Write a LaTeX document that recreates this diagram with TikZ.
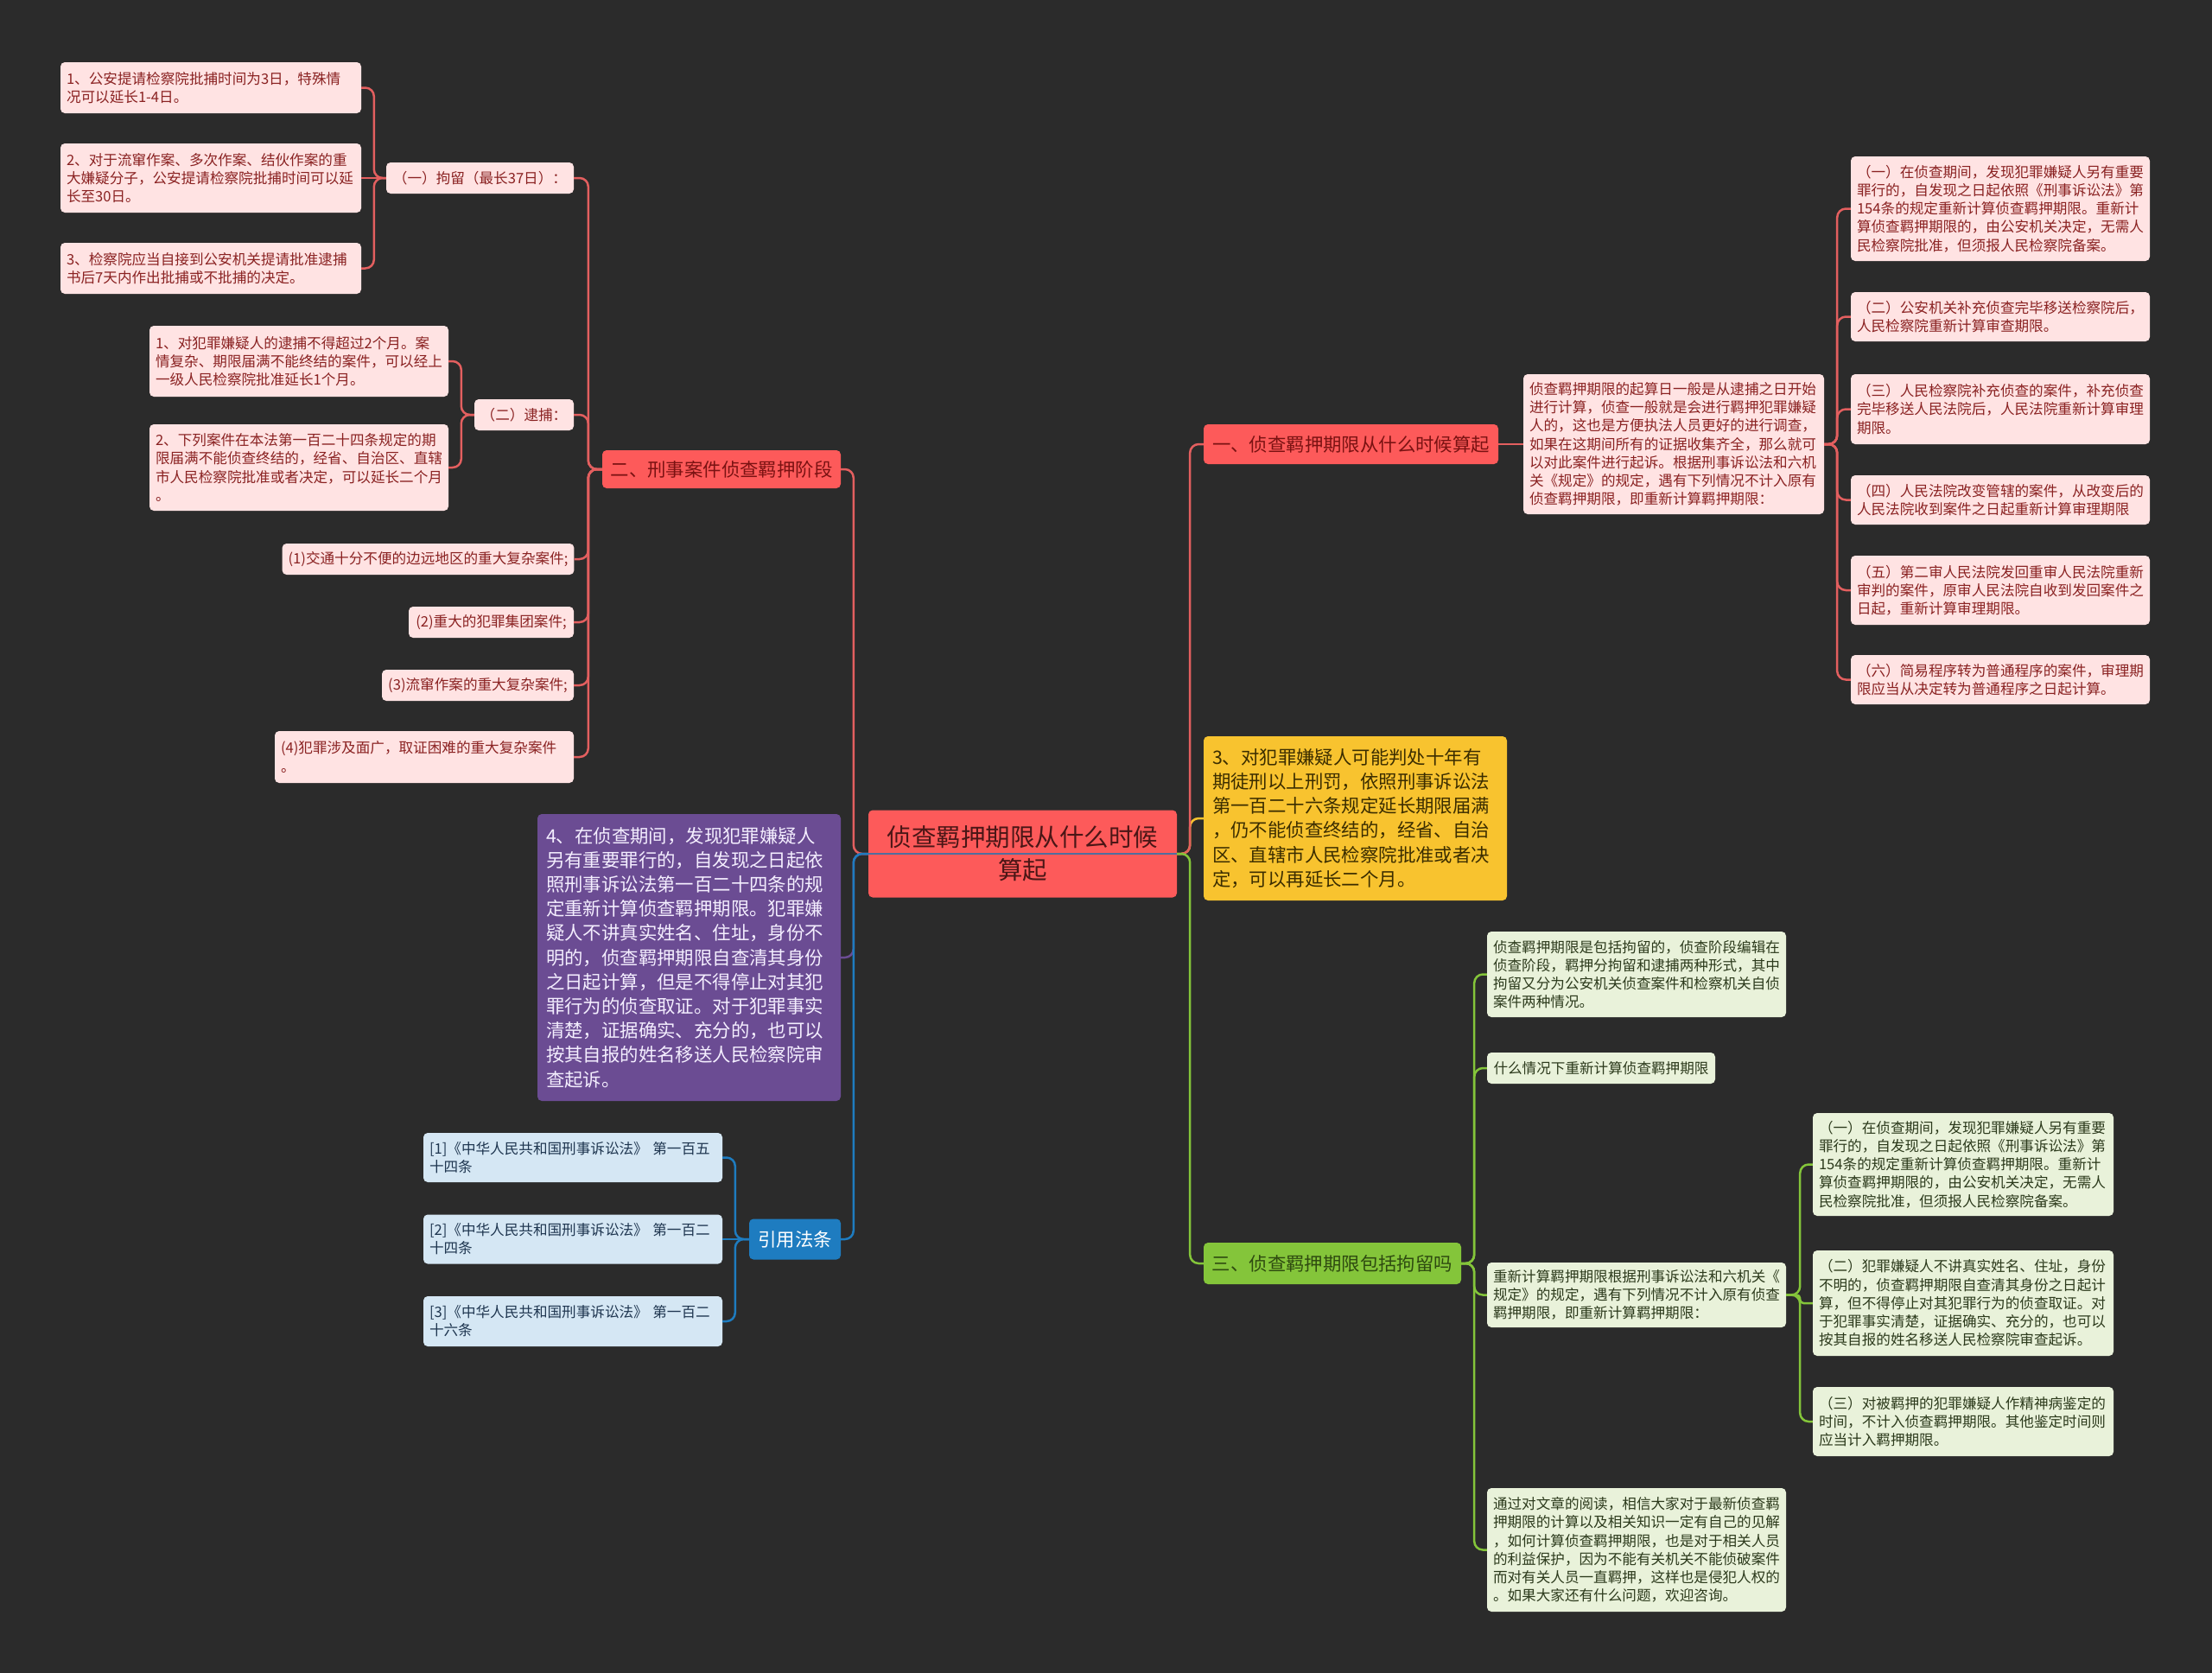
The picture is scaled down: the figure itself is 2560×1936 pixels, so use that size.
\documentclass[tikz,border=0pt]{standalone}
\usepackage{fontspec}
\setmainfont{Noto Sans CJK SC}
\definecolor{bgC}{HTML}{2B2B2B}
\definecolor{pinkF}{HTML}{FFE3E3}
\definecolor{pinkT}{HTML}{8A2222}
\definecolor{redF}{HTML}{FD5A5A}
\definecolor{redT}{HTML}{7A1212}
\definecolor{rootT}{HTML}{4A1616}
\definecolor{redC}{HTML}{E35F5F}
\definecolor{purF}{HTML}{6B4C93}
\definecolor{purT}{HTML}{F4EEFF}
\definecolor{bluF}{HTML}{1E7CC0}
\definecolor{bluL}{HTML}{D5E7F4}
\definecolor{bluT}{HTML}{1F3650}
\definecolor{yelF}{HTML}{F8C32F}
\definecolor{yelT}{HTML}{3B2D00}
\definecolor{greF}{HTML}{84C53A}
\definecolor{greL}{HTML}{E9F2DA}
\definecolor{greT}{HTML}{2C3A1C}
\definecolor{greBT}{HTML}{2E4A10}
\definecolor{crossC}{HTML}{4F6E9E}
\newcommand\fsml{\fontsize{16.6}{21.2}\selectfont}
\newcommand\fmed{\fontsize{21.4}{28.2}\selectfont}
\newcommand\froot{\fontsize{28.5}{37.5}\selectfont}
\tikzset{
  box/.style={rounded corners=5pt, inner xsep=7pt, inner ysep=2pt, anchor=center},
  tbox/.style={box, align=left},
  sbox/.style={box, align=center},
  pinkbox/.style={fill=pinkF, text=pinkT, font=\fsml},
  redbranch/.style={sbox, fill=redF, text=redT, font=\fmed},
  greenbox/.style={fill=greL, text=greT, font=\fsml},
  bluebox/.style={tbox, fill=bluL, text=bluT, font=\fsml},
  conn/.style={line width=2.5pt, rounded corners=10pt},
  rconn/.style={conn, draw=redC},
  pconn/.style={conn, draw=purF},
  bconn/.style={conn, draw=bluF},
  yconn/.style={conn, draw=yelF},
  gconn/.style={conn, draw=greF}
}
\begin{document}
\begin{tikzpicture}[x=1pt,y=-1pt]
\useasboundingbox (0,0) rectangle (2560,1936);
\fill[bgC] (0,0) rectangle (2560,1936);

% ---------------- root ----------------
\node[sbox, fill=redF, text=rootT, font=\froot, minimum width=357pt, minimum height=101pt] (ROOT) at (1183.5,988)
  {侦查羁押期限从什么时候\\算起};

% ---------------- left: branch 二 ----------------
\node[redbranch, minimum width=276pt, minimum height=44pt] (B2) at (835,543) {二、刑事案件侦查羁押阶段};

\node[sbox, pinkbox, minimum width=217pt, minimum height=36pt] (JL) at (555.5,206) {（一）拘留（最长37日）：};
\node[tbox, pinkbox, text width=334pt, minimum height=59pt] (L1a) at (244,101.5)
  {1、公安提请检察院批捕时间为3日，特殊情\\况可以延长1-4日。};
\node[tbox, pinkbox, text width=334pt, minimum height=80pt] (L1b) at (244,206)
  {2、对于流窜作案、多次作案、结伙作案的重\\大嫌疑分子，公安提请检察院批捕时间可以延\\长至30日。};
\node[tbox, pinkbox, text width=334pt, minimum height=59pt] (L1c) at (244,310.5)
  {3、检察院应当自接到公安机关提请批准逮捕\\书后7天内作出批捕或不批捕的决定。};

\node[sbox, pinkbox, minimum width=115pt, minimum height=36pt] (DB) at (606.5,480) {（二）逮捕：};
\node[tbox, pinkbox, text width=332pt, minimum height=82pt] (L2a) at (346,418)
  {1、对犯罪嫌疑人的逮捕不得超过2个月。案\\情复杂、期限届满不能终结的案件，可以经上\\一级人民检察院批准延长1个月。};
\node[tbox, pinkbox, text width=332pt, minimum height=100pt] (L2b) at (346,541)
  {2、下列案件在本法第一百二十四条规定的期\\限届满不能侦查终结的，经省、自治区、直辖\\市人民检察院批准或者决定，可以延长二个月\\。};

\node[sbox, pinkbox, minimum width=337pt, minimum height=36pt] (C1) at (495.5,647) {(1)交通十分不便的边远地区的重大复杂案件;};
\node[sbox, pinkbox, minimum width=191pt, minimum height=36pt] (C2) at (568.5,720) {(2)重大的犯罪集团案件;};
\node[sbox, pinkbox, minimum width=222pt, minimum height=36pt] (C3) at (553,793) {(3)流窜作案的重大复杂案件;};
\node[tbox, pinkbox, text width=332pt, minimum height=60pt] (C4) at (491,876)
  {(4)犯罪涉及面广，取证困难的重大复杂案件\\。};

% ---------------- left: purple ----------------
\node[tbox, fill=purF, text=purT, font=\fmed, inner xsep=10pt, text width=331pt, minimum height=332pt] (P) at (797.5,1108)
  {4、在侦查期间，发现犯罪嫌疑人\\另有重要罪行的，自发现之日起依\\照刑事诉讼法第一百二十四条的规\\定重新计算侦查羁押期限。犯罪嫌\\疑人不讲真实姓名、住址，身份不\\明的，侦查羁押期限自查清其身份\\之日起计算，但是不得停止对其犯\\罪行为的侦查取证。对于犯罪事实\\清楚，证据确实、充分的，也可以\\按其自报的姓名移送人民检察院审\\查起诉。};

% ---------------- left: citations ----------------
\node[sbox, fill=bluF, text=white, font=\fmed, minimum width=106pt, minimum height=47pt] (CITE) at (920,1434) {引用法条};
\node[bluebox, text width=332pt, minimum height=57pt] (R1) at (663,1339.5)
  {[1]《中华人民共和国刑事诉讼法》 第一百五\\十四条};
\node[bluebox, text width=332pt, minimum height=57pt] (R2) at (663,1434)
  {[2]《中华人民共和国刑事诉讼法》 第一百二\\十四条};
\node[bluebox, text width=332pt, minimum height=58pt] (R3) at (663,1529)
  {[3]《中华人民共和国刑事诉讼法》 第一百二\\十六条};

% ---------------- right: branch 一 ----------------
\node[redbranch, minimum width=341pt, minimum height=46pt] (B1) at (1563.5,514) {一、侦查羁押期限从什么时候算起};
\node[tbox, pinkbox, text width=334pt, minimum height=162pt] (T1) at (1937,514)
  {侦查羁押期限的起算日一般是从逮捕之日开始\\进行计算，侦查一般就是会进行羁押犯罪嫌疑\\人的，这也是方便执法人员更好的进行调查，\\如果在这期间所有的证据收集齐全，那么就可\\以对此案件进行起诉。根据刑事诉讼法和六机\\关《规定》的规定，遇有下列情况不计入原有\\侦查羁押期限，即重新计算羁押期限：};
\node[tbox, pinkbox, text width=332pt, minimum height=121pt] (S1) at (2315,241.5)
  {（一）在侦查期间，发现犯罪嫌疑人另有重要\\罪行的，自发现之日起依照《刑事诉讼法》第\\154条的规定重新计算侦查羁押期限。重新计\\算侦查羁押期限的，由公安机关决定，无需人\\民检察院批准，但须报人民检察院备案。};
\node[tbox, pinkbox, text width=332pt, minimum height=57pt] (S2) at (2315,366.5)
  {（二）公安机关补充侦查完毕移送检察院后，\\人民检察院重新计算审查期限。};
\node[tbox, pinkbox, text width=332pt, minimum height=81pt] (S3) at (2315,473.5)
  {（三）人民检察院补充侦查的案件，补充侦查\\完毕移送人民法院后，人民法院重新计算审理\\期限。};
\node[tbox, pinkbox, text width=332pt, minimum height=57pt] (S4) at (2315,578.5)
  {（四）人民法院改变管辖的案件，从改变后的\\人民法院收到案件之日起重新计算审理期限};
\node[tbox, pinkbox, text width=332pt, minimum height=80pt] (S5) at (2315,683)
  {（五）第二审人民法院发回重审人民法院重新\\审判的案件，原审人民法院自收到发回案件之\\日起，重新计算审理期限。};
\node[tbox, pinkbox, text width=332pt, minimum height=57pt] (S6) at (2315,786.5)
  {（六）简易程序转为普通程序的案件，审理期\\限应当从决定转为普通程序之日起计算。};

% ---------------- right: yellow ----------------
\node[tbox, fill=yelF, text=yelT, font=\fmed, inner xsep=10pt, text width=331pt, minimum height=190pt] (Y) at (1568.5,947)
  {3、对犯罪嫌疑人可能判处十年有\\期徒刑以上刑罚，依照刑事诉讼法\\第一百二十六条规定延长期限届满\\，仍不能侦查终结的，经省、自治\\区、直辖市人民检察院批准或者决\\定，可以再延长二个月。};

% ---------------- right: branch 三 ----------------
\node[sbox, fill=greF, text=greBT, font=\fmed, minimum width=298pt, minimum height=48pt] (B3) at (1542,1462) {三、侦查羁押期限包括拘留吗};
\node[tbox, greenbox, text width=332pt, minimum height=99pt] (G1) at (1894,1127.5)
  {侦查羁押期限是包括拘留的，侦查阶段编辑在\\侦查阶段，羁押分拘留和逮捕两种形式，其中\\拘留又分为公安机关侦查案件和检察机关自侦\\案件两种情况。};
\node[sbox, greenbox, minimum width=264pt, minimum height=36pt] (G2) at (1853,1236) {什么情况下重新计算侦查羁押期限};
\node[tbox, greenbox, text width=332pt, minimum height=75pt] (G3) at (1894,1498.5)
  {重新计算羁押期限根据刑事诉讼法和六机关《\\规定》的规定，遇有下列情况不计入原有侦查\\羁押期限，即重新计算羁押期限：};
\node[tbox, greenbox, text width=332pt, minimum height=143pt] (G4) at (1894,1793.5)
  {通过对文章的阅读，相信大家对于最新侦查羁\\押期限的计算以及相关知识一定有自己的见解\\，如何计算侦查羁押期限，也是对于相关人员\\的利益保护，因为不能有关机关不能侦破案件\\而对有关人员一直羁押，这样也是侵犯人权的\\。如果大家还有什么问题，欢迎咨询。};
\node[tbox, greenbox, text width=334pt, minimum height=119pt] (H1) at (2272,1347.5)
  {（一）在侦查期间，发现犯罪嫌疑人另有重要\\罪行的，自发现之日起依照《刑事诉讼法》第\\154条的规定重新计算侦查羁押期限。重新计\\算侦查羁押期限的，由公安机关决定，无需人\\民检察院批准，但须报人民检察院备案。};
\node[tbox, greenbox, text width=334pt, minimum height=122pt] (H2) at (2272,1508)
  {（二）犯罪嫌疑人不讲真实姓名、住址，身份\\不明的，侦查羁押期限自查清其身份之日起计\\算，但不得停止对其犯罪行为的侦查取证。对\\于犯罪事实清楚，证据确实、充分的，也可以\\按其自报的姓名移送人民检察院审查起诉。};
\node[tbox, greenbox, text width=334pt, minimum height=80pt] (H3) at (2272,1645)
  {（三）对被羁押的犯罪嫌疑人作精神病鉴定的\\时间，不计入侦查羁押期限。其他鉴定时间则\\应当计入羁押期限。};

% ---------------- connectors: left ----------------
\draw[rconn] (ROOT.west) -- ++(-17,0) |- (B2.east);
\draw[pconn] (ROOT.west) -- ++(-17,0) |- (P.east);
\draw[bconn] (ROOT.west) -- ++(-17,0) |- (CITE.east);

\draw[rconn] (B2.west) -- ++(-16,0) |- (JL.east);
\draw[rconn] (B2.west) -- ++(-16,0) |- (DB.east);
\draw[rconn] (B2.west) -- ++(-16,0) |- (C1.east);
\draw[rconn] (B2.west) -- ++(-16,0) |- (C2.east);
\draw[rconn] (B2.west) -- ++(-16,0) |- (C3.east);
\draw[rconn] (B2.west) -- ++(-16,0) |- (C4.east);

\draw[rconn] (JL.west) -- ++(-14,0) |- (L1a.east);
\draw[rconn] (JL.west) -- (L1b.east);
\draw[rconn] (JL.west) -- ++(-14,0) |- (L1c.east);

\draw[rconn] (DB.west) -- ++(-15,0) |- (L2a.east);
\draw[rconn] (DB.west) -- ++(-15,0) |- (L2b.east);

\draw[bconn] (CITE.west) -- ++(-16,0) |- (R1.east);
\draw[bconn] (CITE.west) -- (R2.east);
\draw[bconn] (CITE.west) -- ++(-16,0) |- (R3.east);

% ---------------- connectors: right ----------------
\draw[yconn] (ROOT.east) -- ++(15,0) |- (Y.west);
\draw[rconn] (ROOT.east) -- ++(15,0) |- (B1.west);
\draw[gconn] (ROOT.east) -- ++(15,0) |- (B3.west);

\draw[rconn] (B1.east) -- (T1.west);
\draw[rconn] (T1.east) -- ++(15,0) |- (S1.west);
\draw[rconn] (T1.east) -- ++(15,0) |- (S2.west);
\draw[rconn] (T1.east) -- ++(15,0) |- (S3.west);
\draw[rconn] (T1.east) -- ++(15,0) |- (S4.west);
\draw[rconn] (T1.east) -- ++(15,0) |- (S5.west);
\draw[rconn] (T1.east) -- ++(15,0) |- (S6.west);

\draw[gconn] (B3.east) -- ++(15,0) |- (G1.west);
\draw[gconn] (B3.east) -- ++(15,0) |- (G2.west);
\draw[gconn] (B3.east) -- ++(15,0) |- (G3.west);
\draw[gconn] (B3.east) -- ++(15,0) |- (G4.west);

\draw[gconn] (G3.east) -- ++(16,0) |- (H1.west);
\draw[gconn, rounded corners=4pt] (G3.east) -- ++(16,0) |- (H2.west);
\draw[gconn] (G3.east) -- ++(16,0) |- (H3.west);

% line running across the root centre
\draw[line width=2.5pt, draw=crossC] (ROOT.west) -- (ROOT.east);
\end{tikzpicture}
\end{document}
